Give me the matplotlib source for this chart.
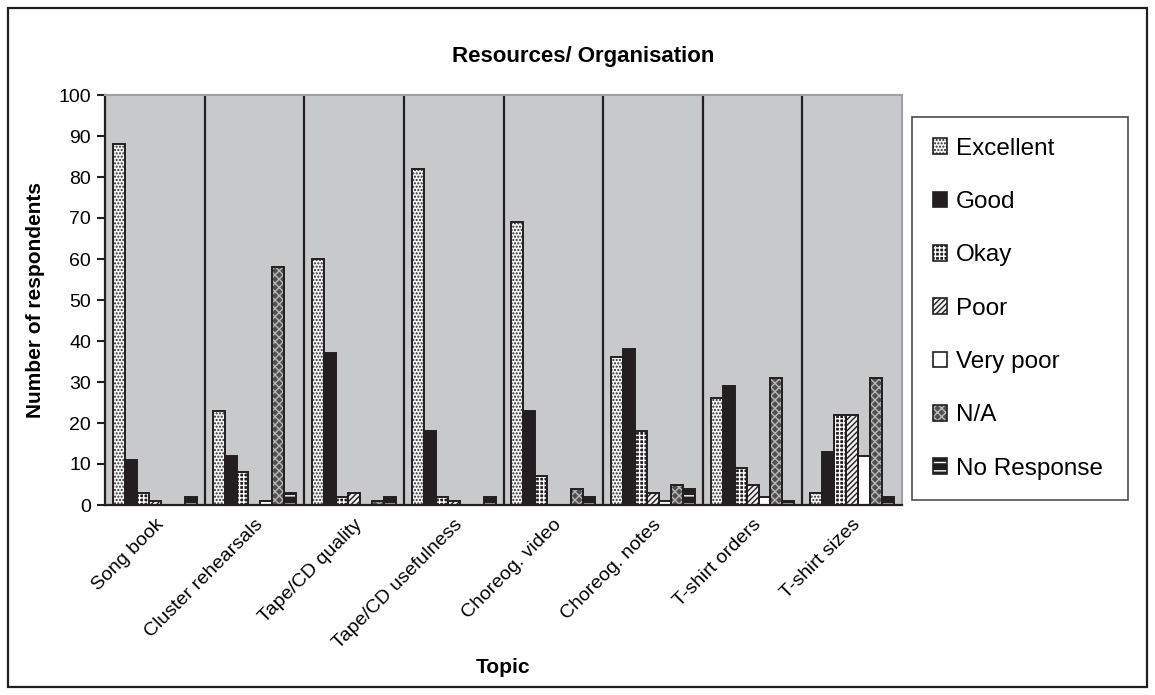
import numpy as np
import matplotlib
matplotlib.use("Agg")
import matplotlib.pyplot as plt
from matplotlib.patches import Patch, Rectangle
from matplotlib.legend_handler import HandlerTuple

plt.rcParams['font.family'] = ['Liberation Sans', 'DejaVu Sans']
plt.rcParams['hatch.linewidth'] = 1.0

topics = ["Song book", "Cluster rehearsals", "Tape/CD quality", "Tape/CD usefulness",
          "Choreog. video", "Choreog. notes", "T-shirt orders", "T-shirt sizes"]
ratings = ["Excellent", "Good", "Okay", "Poor", "Very poor", "N/A", "No Response"]

excellent = [88, 23, 60, 82, 69, 36, 26, 3]
good = [11, 12, 37, 18, 23, 38, 29, 13]
okay = [3, 8, 2, 2, 7, 18, 9, 22]
poor = [1, 0, 3, 1, 0, 3, 5, 22]
very_poor = [0, 1, 0, 0, 0, 1, 2, 12]
not_applicable = [0, 58, 1, 0, 4, 5, 31, 31]
no_response = [2, 3, 2, 2, 2, 4, 1, 2]

series = [excellent, good, okay, poor, very_poor, not_applicable, no_response]

# (face, hatch, hatch colour) per rating, black & white print style
styles = [
    ("#f4f4f4", ".....", "#2a2a2a"),
    ("#231f20", None, "#231f20"),
    ("#231f20", "++++", "#ffffff"),
    ("#f0f0f0", "//////", "#231f20"),
    ("#ffffff", None, "#ffffff"),
    ("#505050", "xxxx", "#b8b8b8"),
    ("#231f20", "--", "#ffffff"),
]
outline = "#231f20"

fig = plt.figure(figsize=(11.55, 6.95), dpi=100)
ax = fig.add_axes([105 / 1155, 1 - 505 / 695, 797 / 1155, 410 / 695])
ax.set_facecolor("#c8c9cb")

x = np.arange(len(topics))
w = 0.12
handles = []
for i, (vals, (face, hatch, hcol)) in enumerate(zip(series, styles)):
    pos = x - 0.42 + w / 2 + i * w
    ax.bar(pos, vals, w, color=face, hatch=hatch, edgecolor=hcol, linewidth=0, zorder=3)
    ax.bar(pos, vals, w, fill=False, edgecolor=outline, linewidth=1.4, zorder=4)
    handles.append((Patch(facecolor=face, hatch=hatch, edgecolor=hcol, linewidth=0),
                    Patch(fill=False, edgecolor=outline, linewidth=1.2)))

for b in x[:-1] + 0.5:
    ax.axvline(b, color="#231f20", linewidth=1.6, zorder=2)

ax.set_xlim(-0.5, len(topics) - 0.5)
ax.set_ylim(0, 100)
ax.set_yticks(np.arange(0, 101, 10))
ax.set_xticks(x)
ax.set_xticklabels(topics, rotation=45, ha="right", va="top", rotation_mode="anchor")
ax.tick_params(axis="y", labelsize=14, length=6, width=1.5, color="#231f20", pad=4)
ax.tick_params(axis="x", labelsize=14, length=0, pad=8)

for side in ["top", "right"]:
    ax.spines[side].set_color("#a0a0a4")
    ax.spines[side].set_linewidth(1.5)
for side in ["left", "bottom"]:
    ax.spines[side].set_color("#231f20")
    ax.spines[side].set_linewidth(1.6)
ax.spines["bottom"].set_zorder(5)

ax.set_ylabel("Number of respondents", fontsize=15, fontweight="bold", labelpad=10)
ax.set_xlabel("Topic", fontsize=15, fontweight="bold", labelpad=4)
fig.text(0.505, 0.918, "Resources/ Organisation", fontsize=16, fontweight="bold",
         ha="center", va="center")

leg = fig.legend(handles, ratings, handler_map={tuple: HandlerTuple(ndivide=1)},
                 loc="upper left", bbox_to_anchor=(912 / 1155, 0.05, 216 / 1155, 1 - 117 / 695 - 0.05),
                 mode="expand", fontsize=17.5, handlelength=0.6, handleheight=0.6,
                 handletextpad=0.35, labelspacing=1.29, borderpad=0.85, borderaxespad=0,
                 fancybox=False, frameon=True)
leg.get_frame().set_edgecolor("#231f20")
leg.get_frame().set_linewidth(1.2)

fig.patches.append(Rectangle((8 / 1155, 8 / 695), 1139 / 1155, 679 / 695, fill=False,
                             edgecolor="#231f20", linewidth=1.6, transform=fig.transFigure))

fig.savefig("out.png", dpi=100, facecolor="white")
